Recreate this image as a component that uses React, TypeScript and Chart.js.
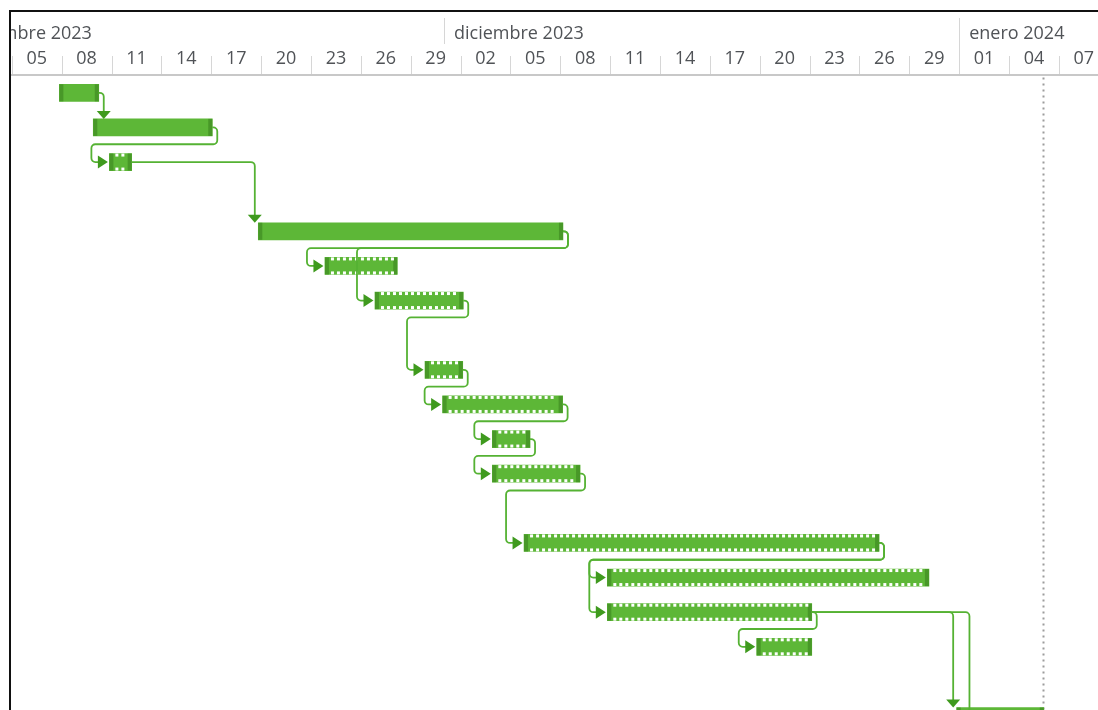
import React, { useEffect, useRef } from 'react';
import { Chart, registerables } from 'chart.js';

Chart.register(...registerables);

// Day numbers are counted from 1 Nov 2023 00:00 (= 0).
// Task rows of the Gantt view (null = empty row)
const rowLabels = ['1', '2', '3', '4', '5', '6', '7', '8', '9', '10', '11', '12', '13', '14', '15', '16', '17', '18', '19', '20'];
const taskStart: (number | null)[] = [6.86, 8.9, 9.87, null, 18.83, 22.84, 25.85, null, 28.86, 29.92, 32.91, 32.91, null, 34.82, 39.83, 39.83, 48.82, null, 60.85, 61.83];
const taskEnd: (number | null)[] = [9.23, 16.06, 11.21, null, 37.16, 27.19, 31.16, null, 31.13, 37.14, 35.18, 38.19, null, 56.18, 59.18, 52.13, 52.13, null, 66.09, 66.1];
const taskKind: (string | null)[] = ['auto', 'auto', 'manual', null, 'auto', 'manual', 'manual', null, 'manual', 'manual', 'manual', 'manual', null, 'manual', 'manual', 'manual', 'manual', null, 'auto', 'auto'];

// Dependencies: [predecessor row, successor row, routing]
const links: [number, number, string][] = [
  [0, 1, 'down'], [1, 2, 'wrap'], [2, 4, 'down'], [4, 5, 'wrap'], [4, 6, 'wrap'],
  [6, 8, 'wrap'], [8, 9, 'wrap'], [9, 10, 'wrap'], [10, 11, 'wrap'], [11, 13, 'wrap'],
  [13, 14, 'wrap'], [13, 15, 'wrap'], [15, 16, 'wrap'], [15, 18, 'down'], [15, 19, 'down'],
];

// Timescale
const monthStarts = [0, 30, 61];
const monthLabels = ['noviembre 2023', 'diciembre 2023', 'enero 2024'];
const dayCellStarts = [4, 7, 10, 13, 16, 19, 22, 25, 28, 31, 34, 37, 40, 43, 46, 49, 52, 55, 58, 61, 64, 67];
const dayCellLabels = ['05', '08', '11', '14', '17', '20', '23', '26', '29', '02', '05', '08', '11', '14', '17', '20', '23', '26', '29', '01', '04', '07'];
const statusDate = 66.05;

const X_MIN = 3.95;
const X_MAX = 3.95 + 1087 / 16.62;

const BAR = '#5db737';
const CAP = '#489828';
const LINK = '#55b233';
const ARROW = '#3f9a1e';
const TEXT = '#505357';
const FONT = '"Open Sans", "Noto Sans", sans-serif';
const HEADER_H = 63.5;

const ganttPlugin = {
  id: 'ganttDecor',
  beforeDatasetsDraw(chart: any) {
    const { ctx, chartArea } = chart;
    const xs = chart.scales.x;
    const sx = Math.round(xs.getPixelForValue(statusDate)) + 0.5;
    ctx.save();
    ctx.strokeStyle = '#9c9c9c';
    ctx.lineWidth = 2;
    ctx.setLineDash([2, 4]);
    ctx.beginPath();
    ctx.moveTo(sx, chartArea.top + 2);
    ctx.lineTo(sx, chart.height);
    ctx.stroke();
    ctx.restore();
  },
  afterDatasetsDraw(chart: any) {
    const { ctx, chartArea } = chart;
    const meta = chart.getDatasetMeta(0);
    const rowH = (chartArea.bottom - chartArea.top) / rowLabels.length;
    ctx.save();
    // bar ends and manual-task notches
    meta.data.forEach((el: any, i: number) => {
      if (taskStart[i] == null) return;
      const left = Math.min(el.base, el.x);
      const right = Math.max(el.base, el.x);
      const h = el.height;
      const top = el.y - h / 2;
      ctx.fillStyle = CAP;
      ctx.fillRect(left, top, 4, h);
      ctx.fillRect(right - 4, top, 4, h);
      if (taskKind[i] === 'manual') {
        ctx.fillStyle = '#ffffff';
        for (let x = left + 6; x < right - 6; x += 6) {
          ctx.fillRect(x, top, 3, 3);
          ctx.fillRect(x, top + h - 3, 3, 3);
        }
      }
    });
    // links
    const r = 4;
    ctx.lineWidth = 1.8;
    ctx.lineJoin = 'round';
    for (const [a, b, kind] of links) {
      const pa = meta.data[a];
      const pb = meta.data[b];
      const aEnd = Math.max(pa.x, pa.base);
      const aY = pa.y;
      const bStart = Math.min(pb.x, pb.base);
      const bY = pb.y;
      const bTop = pb.y - pb.height / 2;
      ctx.strokeStyle = LINK;
      ctx.fillStyle = ARROW;
      ctx.beginPath();
      if (kind === 'down') {
        const ax = bStart > aEnd ? bStart - 3.5 : aEnd + 5;
        ctx.moveTo(aEnd, aY);
        ctx.lineTo(ax - r, aY);
        ctx.arcTo(ax, aY, ax, aY + r, r);
        ctx.lineTo(ax, bTop - 7);
        ctx.stroke();
        ctx.beginPath();
        ctx.moveTo(ax - 7, bTop - 8);
        ctx.lineTo(ax + 7, bTop - 8);
        ctx.lineTo(ax, bTop);
        ctx.closePath();
        ctx.fill();
      } else {
        const x1 = aEnd + 5;
        const yMid = aY + rowH / 2 - 0.5;
        const xL = bStart - 18;
        const tip = bStart - 1.5;
        ctx.moveTo(aEnd, aY);
        ctx.lineTo(x1 - r, aY);
        ctx.arcTo(x1, aY, x1, aY + r, r);
        ctx.lineTo(x1, yMid - r);
        ctx.arcTo(x1, yMid, x1 - r, yMid, r);
        ctx.lineTo(xL + r, yMid);
        ctx.arcTo(xL, yMid, xL, yMid + r, r);
        ctx.lineTo(xL, bY - r);
        ctx.arcTo(xL, bY, xL + r, bY, r);
        ctx.lineTo(tip - 8, bY);
        ctx.stroke();
        ctx.beginPath();
        ctx.moveTo(tip - 10, bY - 6.5);
        ctx.lineTo(tip - 10, bY + 6.5);
        ctx.lineTo(tip, bY);
        ctx.closePath();
        ctx.fill();
      }
    }
    ctx.restore();
  },
  afterDraw(chart: any) {
    const { ctx } = chart;
    const xs = chart.scales.x;
    ctx.save();
    ctx.fillStyle = '#ffffff';
    ctx.fillRect(0, 0, chart.width, HEADER_H - 1);
    // month row
    ctx.font = `18px ${FONT}`;
    ctx.textBaseline = 'middle';
    ctx.textAlign = 'left';
    ctx.fillStyle = TEXT;
    monthStarts.forEach((m, i) => {
      const px = xs.getPixelForValue(m);
      ctx.fillText(monthLabels[i], px + 10, 22);
      if (px > 1) {
        ctx.strokeStyle = '#d6d6d6';
        ctx.lineWidth = 1;
        ctx.beginPath();
        const lx = Math.round(px) + 0.5;
        ctx.moveTo(lx, 6);
        ctx.lineTo(lx, dayCellStarts.includes(m) ? HEADER_H : 32);
        ctx.stroke();
      }
    });
    // day row
    ctx.textAlign = 'center';
    dayCellStarts.forEach((d, i) => {
      const px = xs.getPixelForValue(d);
      const cx = xs.getPixelForValue(d + 1.5);
      ctx.fillStyle = TEXT;
      ctx.fillText(dayCellLabels[i], cx, 47);
      ctx.strokeStyle = '#d6d6d6';
      ctx.lineWidth = 1;
      ctx.beginPath();
      const lx = Math.round(px) + 0.5;
      ctx.moveTo(lx, 44);
      ctx.lineTo(lx, HEADER_H);
      ctx.stroke();
    });
    // header bottom rule
    ctx.fillStyle = '#c8c8c8';
    ctx.fillRect(0, 62, chart.width, 2);
    ctx.restore();
  },
};

export default function App() {
  const ref = useRef<HTMLCanvasElement | null>(null);
  useEffect(() => {
    if (!ref.current) return;
    const chart = new Chart(ref.current, {
      type: 'bar',
      data: {
        labels: rowLabels,
        datasets: [
          {
            data: taskStart.map((s, i) => (s == null ? null : [s, taskEnd[i] as number])) as any,
            backgroundColor: BAR,
            borderWidth: 0,
            barThickness: 17,
          },
        ],
      },
      options: {
        indexAxis: 'y',
        responsive: false,
        animation: false,
        layout: { padding: { top: HEADER_H, bottom: 4, left: 0, right: 0 } },
        plugins: { legend: { display: false }, tooltip: { enabled: false } },
        scales: {
          x: { type: 'linear', min: X_MIN, max: X_MAX, display: false },
          y: { type: 'category', display: false, offset: true },
        },
      },
      plugins: [ganttPlugin],
    });
    return () => chart.destroy();
  }, []);
  return (
    <div
      style={{
        position: 'fixed',
        left: 9,
        top: 10,
        width: 1089,
        height: 700,
        borderLeft: '2px solid #111',
        borderTop: '2px solid #111',
        overflow: 'hidden',
        background: '#fff',
      }}
    >
      <canvas ref={ref} width={1087} height={760} style={{ display: 'block' }} />
    </div>
  );
}
